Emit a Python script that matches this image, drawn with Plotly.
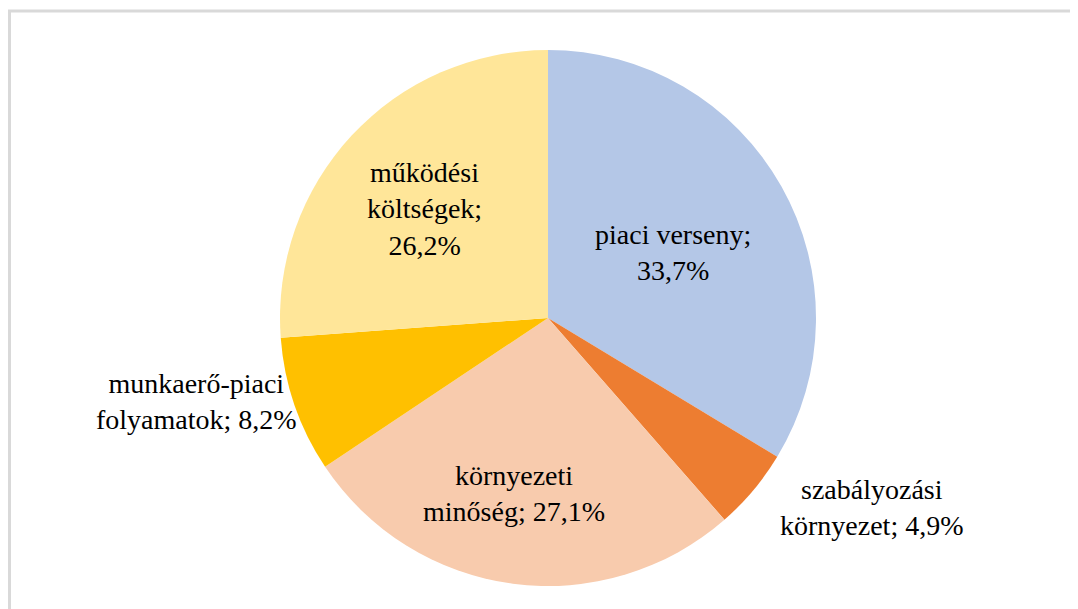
import math
import plotly.graph_objects as go

categories = ["piaci verseny", "szabályozási környezet", "környezeti minőség",
              "munkaerő-piaci folyamatok", "működési költségek"]
values = [33.7, 4.9, 27.1, 8.2, 26.2]
label_texts = ["piaci verseny;<br>33,7%", "szabályozási<br>környezet; 4,9%",
               "környezeti<br>minőség; 27,1%", "munkaerő-piaci<br>folyamatok; 8,2%",
               "működési<br>költségek;<br>26,2%"]
colors = ["#B4C7E7", "#ED7D31", "#F8CBAD", "#FFC000", "#FFE699"]

W, H = 1078, 609
OFF = 8  # page body margin
cx, cy, R = 548 - OFF, 318 - OFF, 268

# label placement style: (radius factor, xanchor, extra dx px)
label_style = [(0.50, "center", 8), (1.10, "left", 4), (0.66, "center", -11),
               (0.96, "right", -6), (0.60, "center", -6)]

FONT = "serif"

fig = go.Figure(go.Pie(
    labels=categories, values=values, sort=False, direction="clockwise",
    rotation=0, marker=dict(colors=colors, line=dict(width=0)),
    textinfo="none", hoverinfo="label+percent", showlegend=False,
    domain=dict(x=[(cx - R) / W, (cx + R) / W], y=[(H - cy - R) / H, (H - cy + R) / H]),
))

total = sum(values)
cum = 0
annotations = []
for v, txt, (rf, xa, dx) in zip(values, label_texts, label_style):
    mid = (cum + v / 2) / total * 2 * math.pi
    cum += v
    px = cx + R * rf * math.sin(mid) + dx
    py = cy - R * rf * math.cos(mid)
    annotations.append(dict(
        x=px / W, y=1 - py / H, xref="paper", yref="paper", text=txt,
        showarrow=False, xanchor=xa, yanchor="middle", align="center",
        font=dict(family=FONT, size=28, color="black"),
    ))

fig.update_layout(
    width=W, height=H, margin=dict(l=0, r=0, t=0, b=0),
    paper_bgcolor="white", plot_bgcolor="white",
    font=dict(family=FONT),
    annotations=annotations,
    shapes=[
        dict(type="line", xref="paper", yref="paper", x0=0, x1=1, y0=1 - 3 / H, y1=1 - 3 / H,
             line=dict(color="#D9D9D9", width=3)),
        dict(type="line", xref="paper", yref="paper", x0=1.5 / W, x1=1.5 / W, y0=0, y1=1 - 3 / H,
             line=dict(color="#D9D9D9", width=3)),
    ],
)
fig.write_html("out.html")
